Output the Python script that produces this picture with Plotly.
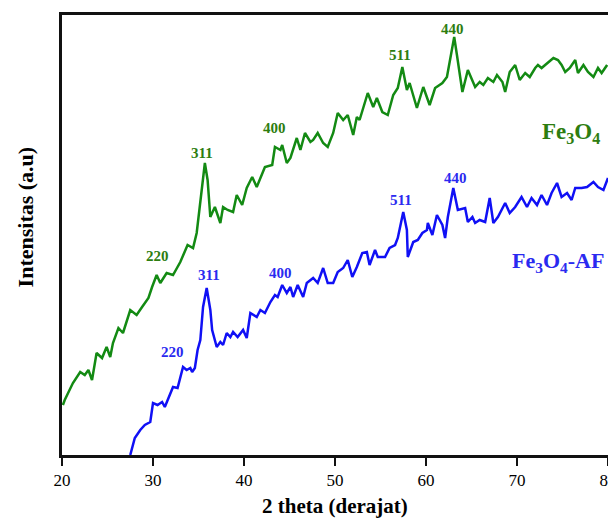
import plotly.graph_objects as go

# ---- data (2 theta in degrees, intensity in a.u.) ----
fe3o4_theta = [20.1, 20.3, 21.2, 22.0, 22.5, 22.9, 23.3, 23.8, 24.4, 24.9, 25.3, 25.6, 26.2, 26.7,
               27.5, 28.2, 28.8, 29.5, 29.9, 30.4, 30.8, 31.5, 32.2, 33.0, 33.8, 34.4, 34.8, 35.2,
               35.5, 35.7, 36.0, 36.3, 36.8, 37.4, 37.7, 38.2, 38.8, 39.2, 39.8, 40.3, 40.9, 41.4,
               42.3, 43.1, 43.4, 44.0, 44.2, 44.7, 45.1, 45.8, 46.2, 46.7, 47.3, 47.6, 48.1, 48.7,
               49.2, 49.8, 50.3, 50.9, 51.4, 52.0, 52.4, 52.7, 53.6, 54.2, 54.6, 55.2, 55.8, 56.4,
               56.9, 57.4, 57.9, 58.2, 59.0, 59.7, 60.4, 61.0, 61.8, 62.3, 62.6, 63.1, 63.4, 64.0,
               64.6, 65.4, 65.9, 66.3, 66.8, 67.4, 67.8, 68.4, 68.7, 69.2, 69.8, 70.3, 70.9, 71.4,
               72.0, 72.3, 72.7, 73.3, 74.0, 74.5, 74.9, 75.3, 75.8, 76.4, 76.7, 77.3, 77.8, 78.4,
               78.9, 79.3, 79.9]
fe3o4_int = [50, 55, 72, 83, 80, 85, 75, 102, 97, 108, 98, 112, 127, 122,
             145, 140, 148, 157, 168, 180, 172, 182, 180, 193, 210, 207, 222, 255,
             275, 292, 275, 238, 248, 232, 248, 245, 243, 260, 250, 267, 278, 268,
             288, 290, 308, 305, 310, 292, 297, 317, 305, 322, 313, 315, 322, 312,
             308, 322, 342, 335, 340, 320, 338, 335, 362, 348, 357, 343, 340, 360,
             367, 388, 365, 372, 347, 368, 350, 367, 372, 378, 393, 418, 400, 363,
             385, 368, 373, 370, 377, 373, 380, 373, 363, 383, 390, 375, 382, 378,
             387, 390, 387, 392, 397, 395, 390, 383, 387, 395, 382, 390, 383, 378,
             387, 382, 390]

af_theta = [27.5, 28.0, 28.6, 29.1, 29.7, 30.0, 30.5, 31.0, 31.3, 31.9, 32.2, 32.7, 33.3, 33.7,
            34.1, 34.3, 34.6, 34.9, 35.2, 35.5, 35.9, 36.3, 36.5, 37.0, 37.4, 37.7, 38.1, 38.5,
            38.8, 39.3, 39.9, 40.3, 40.7, 41.4, 41.8, 42.3, 42.9, 43.4, 43.7, 44.2, 44.7, 45.1,
            45.4, 45.9, 46.5, 46.9, 47.6, 48.1, 48.7, 49.2, 49.8, 50.3, 50.9, 51.4, 51.9, 52.4,
            53.0, 53.5, 53.8, 54.4, 54.7, 55.5, 56.0, 56.6, 56.9, 57.5, 57.9, 58.0, 58.6, 59.1,
            59.6, 60.1, 60.2, 60.7, 61.2, 61.8, 62.1, 62.4, 63.0, 63.5, 64.3, 64.6, 65.1, 65.4,
            65.9, 66.5, 67.0, 67.4, 67.9, 68.7, 69.2, 69.8, 70.5, 71.1, 71.6, 72.2, 72.7, 73.3,
            73.8, 74.4, 74.9, 75.5, 76.0, 76.4, 77.1, 77.7, 78.4, 78.9, 79.5, 80.0]
af_int = [0, 17, 25, 30, 33, 52, 50, 53, 48, 62, 68, 67, 88, 85,
          87, 83, 87, 105, 115, 148, 167, 145, 125, 108, 113, 110, 122, 118,
          123, 118, 125, 117, 142, 138, 145, 142, 153, 160, 158, 170, 162, 168,
          158, 170, 158, 172, 177, 172, 187, 172, 172, 183, 187, 195, 178, 188,
          202, 203, 190, 205, 198, 198, 207, 210, 217, 243, 225, 198, 213, 215,
          222, 225, 232, 220, 240, 230, 217, 238, 267, 245, 247, 233, 238, 232,
          235, 233, 257, 232, 238, 252, 242, 248, 258, 248, 257, 250, 260, 250,
          262, 272, 258, 262, 255, 267, 267, 268, 273, 268, 265, 277]

# peak labels (hkl) : text, 2theta, intensity
fe3o4_labels = ["220", "311", "400", "511", "440"]
fe3o4_label_x = [30.5, 35.4, 43.3, 57.1, 62.9]
fe3o4_label_y = [199, 302, 327, 400, 426]
af_labels = ["220", "311", "400", "511", "440"]
af_label_x = [32.1, 36.2, 44.0, 57.3, 63.2]
af_label_y = [103, 180, 182, 255, 277]

GREEN = "#138a13"
BLUE = "#1010f5"
GREEN_TXT = "#2d7d10"
BLUE_TXT = "#2a2af0"
FONT = "Liberation Serif"

fig = go.Figure()
fig.add_trace(go.Scatter(x=fe3o4_theta, y=fe3o4_int, mode="lines",
                         line=dict(color=GREEN, width=2.5), showlegend=False))
fig.add_trace(go.Scatter(x=af_theta, y=af_int, mode="lines",
                         line=dict(color=BLUE, width=2.5), showlegend=False))

anns = []
for t, x, y in zip(fe3o4_labels, fe3o4_label_x, fe3o4_label_y):
    anns.append(dict(x=x, y=y, text="<b>%s</b>" % t, showarrow=False,
                     font=dict(family=FONT, size=15, color=GREEN_TXT)))
for t, x, y in zip(af_labels, af_label_x, af_label_y):
    anns.append(dict(x=x, y=y, text="<b>%s</b>" % t, showarrow=False,
                     font=dict(family=FONT, size=15, color=BLUE_TXT)))
anns.append(dict(x=75.9, y=322, text="<b>Fe<sub>3</sub>O<sub>4</sub></b>", showarrow=False,
                 font=dict(family=FONT, size=23, color=GREEN_TXT)))
anns.append(dict(x=74.5, y=193, text="<b>Fe<sub>3</sub>O<sub>4</sub>-AF</b>", showarrow=False,
                 font=dict(family=FONT, size=22, color=BLUE_TXT)))
# axis titles
anns.append(dict(xref="paper", yref="paper", x=0.5, y=0, yanchor="top", yshift=-37,
                 text="<b>2 theta (derajat)</b>", showarrow=False,
                 font=dict(family=FONT, size=21, color="black")))
anns.append(dict(xref="paper", yref="paper", x=0, y=0.54, xanchor="center", xshift=-37,
                 textangle=-90, text="<b>Intensitas (a.u)</b>", showarrow=False,
                 font=dict(family=FONT, size=22, color="black")))

# the page body has an 8 px default margin, so the figure is drawn 8 px in
fig.update_layout(
    width=616, height=518,
    margin=dict(l=54, r=16, t=7, b=71),
    paper_bgcolor="white", plot_bgcolor="white",
    annotations=anns,
    font=dict(family=FONT, color="black"),
    xaxis=dict(range=[20, 80], tickvals=[20, 30, 40, 50, 60, 70, 80],
               ticks="outside", ticklen=8, tickwidth=2, tickcolor="#111",
               showline=True, linecolor="#111", linewidth=2.5, mirror=True,
               showgrid=False, zeroline=False, automargin=False,
               ticklabeloverflow="allow",
               tickfont=dict(family=FONT, size=17, color="black")),
    yaxis=dict(range=[0, 440], showticklabels=False, ticks="",
               showline=True, linecolor="#111", linewidth=2.5, mirror=True,
               showgrid=False, zeroline=False, automargin=False),
)

fig.write_html("out.html")
